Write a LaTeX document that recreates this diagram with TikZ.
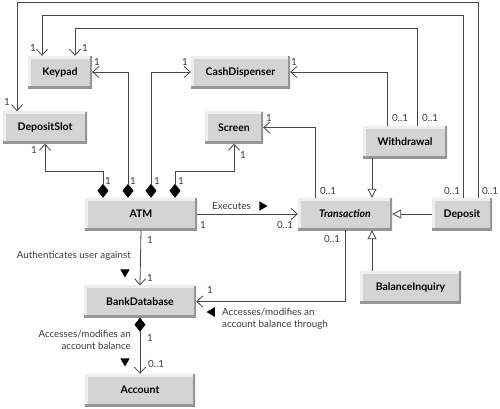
\documentclass[tikz,border=0pt]{standalone}
\usepackage{fontspec}
\setmainfont{Lato}
\usetikzlibrary{arrows.meta, shapes.geometric, calc}

\definecolor{boxfill}{RGB}{212,212,212}
\definecolor{boxdark}{RGB}{150,150,150}
\definecolor{boxlight}{RGB}{238,238,238}
\definecolor{linegray}{RGB}{70,70,70}
\definecolor{textgray}{RGB}{60,60,60}

\begin{document}
\begin{tikzpicture}[x=1pt, y=-1pt, >=Stealth, font=\fontsize{9.8}{11.5}\selectfont,
    cls/.style={rectangle, fill=boxfill, minimum height=32pt, inner sep=0pt,
      font=\fontsize{10.5}{12}\selectfont\bfseries,
      path picture={
        \draw[boxlight, line width=5pt] (path picture bounding box.south west) -- (path picture bounding box.north west) -- (path picture bounding box.north east);
        \draw[boxdark, line width=5pt] (path picture bounding box.south west) -- (path picture bounding box.south east) -- (path picture bounding box.north east);
      }},
    lbl/.style={inner sep=0pt, text=textgray},
    tri/.style={regular polygon, regular polygon sides=3, fill=black, minimum size=11pt, inner sep=0pt},
    line/.style={draw=linegray, line width=0.8pt},
    nav/.style={line, -{Straight Barb[length=6pt, width=11pt]}},
    comp/.style={line, {Diamond[length=14pt, width=11pt, color=black, fill=black]}-{Straight Barb[length=6pt, width=11pt]}},
    gen/.style={line, -{Triangle[open, length=9pt, width=9pt, fill=white]}}]

  \useasboundingbox (0,0) rectangle (500,408);

  % classes
  \node[cls, minimum width=64pt] (keypad) at (60,72) {Keypad};
  \node[cls, minimum width=84pt] (slot) at (45,127.5) {DepositSlot};
  \node[cls, minimum width=99pt] (cash) at (240.5,72) {CashDispenser};
  \node[cls, minimum width=58pt] (screen) at (234,127.5) {Screen};
  \node[cls, minimum width=84pt] (withdraw) at (405,142) {Withdrawal};
  \node[cls, minimum width=112pt] (atm) at (141,214) {ATM};
  \node[cls, minimum width=94pt] (trans) at (345,214) {\itshape Transaction};
  \node[cls, minimum width=60pt] (deposit) at (462,214) {Deposit};
  \node[cls, minimum width=101pt] (inquiry) at (410.5,287) {BalanceInquiry};
  \node[cls, minimum width=112pt] (bank) at (140,301.5) {BankDatabase};
  \node[cls, minimum width=110pt] (account) at (140,390) {Account};

  % composition of the ATM
  \draw[comp] (atm.north -| 103,0) -- (103,171) -| (slot.south);
  \draw[comp] (atm.north -| 128,0) |- (keypad.east);
  \draw[comp] (atm.north -| 151,0) |- (cash.west);
  \draw[comp] (atm.north -| 175,0) -- (175,171) -| (screen.south);

  % associations of the transactions
  \draw[nav] (withdraw.north -| 387,0) |- (cash.east);
  \draw[nav] (withdraw.north -| 417,0) |- (75,28) -- (keypad.north -| 75,0);
  \draw[nav] (deposit.north -| 463,0) |- (42,15) -- (keypad.north -| 42,0);
  \draw[nav] (deposit.north -| 478,0) |- (17,2) -- (slot.north -| 17,0);
  \draw[nav] (trans.north -| 315,0) |- (screen.east);
  \draw[nav] (atm.east) -- (trans.west);
  \draw[nav] (atm.south) -- (bank.north);
  \draw[nav] (trans.south) |- (bank.east);
  \draw[comp] (bank.south) -- (account.north);

  % generalization
  \draw[gen] (withdraw.south -| 372,0) -- (trans.north -| 372,0);
  \draw[gen] (inquiry.north -| 372,0) -- (trans.south -| 372,0);
  \draw[gen] (deposit.west) -- (trans.east);

  % multiplicities
  \node[lbl] (m1) at (108,181) {1};
  \node[lbl] (m2) at (133,181) {1};
  \node[lbl] (m3) at (157,181) {1};
  \node[lbl] (m4) at (181,181) {1};
  \node[lbl] (m5) at (34,150) {1};
  \node[lbl] (m6) at (97,62) {1};
  \node[lbl] (m7) at (185,62) {1};
  \node[lbl] (m8) at (243,155) {1};
  \node[lbl] (m9) at (7,102) {1};
  \node[lbl] (m10) at (33,48) {1};
  \node[lbl] (m11) at (85,48) {1};
  \node[lbl] (m12) at (294,62) {1};
  \node[lbl] (m13) at (269,118) {1};
  \node[lbl] (m14) at (400,118) {0..1};
  \node[lbl] (m15) at (430,118) {0..1};
  \node[lbl] (m16) at (328,191) {0..1};
  \node[lbl] (m17) at (452,191) {0..1};
  \node[lbl] (m18) at (490,191) {0..1};
  \node[lbl] (m19) at (203,225) {1};
  \node[lbl] (m20) at (285,225) {0..1};
  \node[lbl] (m21) at (332,239) {0..1};
  \node[lbl] (m22) at (150,240) {1};
  \node[lbl] (m23) at (150,278) {1};
  \node[lbl] (m24) at (210,290) {1};
  \node[lbl] (m25) at (150,338) {1};
  \node[lbl] (m26) at (156,364) {0..1};

  % association names
  \node[lbl, anchor=west] (executes) at (212,206) {Executes};
  \node[tri, rotate=-90] (exectri) at (262,206) {};
  \node[lbl, anchor=east] (auth) at (131,256) {Authenticates user against};
  \node[tri, rotate=180] (authtri) at (125,272) {};
  \node[lbl, anchor=west, align=left] (accthrough) at (222,319) {Accesses/modifies an\\account balance through};
  \node[tri, rotate=90] (acctri) at (212,312) {};
  \node[lbl, anchor=east, align=right] (accbal) at (131,340) {Accesses/modifies an\\account balance};
  \node[tri, rotate=180] (acctri2) at (125,361) {};
\end{tikzpicture}
\end{document}
